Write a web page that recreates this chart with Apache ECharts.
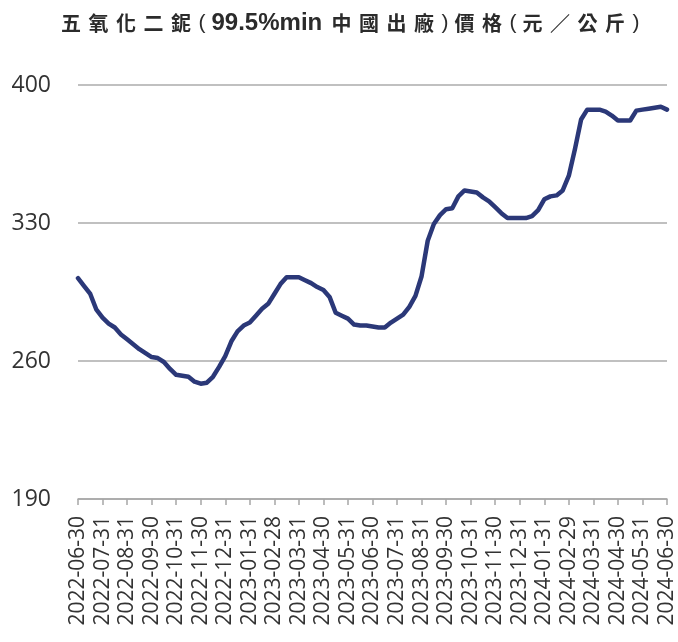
<!DOCTYPE html>
<html>
<head>
<meta charset="utf-8">
<script src="https://cdn.jsdelivr.net/npm/echarts@6/dist/echarts.min.js"></script>
<style>
html,body{margin:0;padding:0;background:#fff;}
#chart{width:678px;height:642px;}
</style>
</head>
<body>
<div id="chart"></div>
<script>
// ---- data ----
const titleText = '五氧化二鈮(99.5%min中國出廠)價格(元／公斤)';
const monthEnds = [
  '2022-06-30','2022-07-31','2022-08-31','2022-09-30','2022-10-31','2022-11-30','2022-12-31',
  '2023-01-31','2023-02-28','2023-03-31','2023-04-30','2023-05-31','2023-06-30','2023-07-31',
  '2023-08-31','2023-09-30','2023-10-31','2023-11-30','2023-12-31','2024-01-31','2024-02-29',
  '2024-03-31','2024-04-30','2024-05-31','2024-06-30'
];
const yTicks = [190, 260, 330, 400];
const prices = [
  302, 298, 294, 286, 282, 279, 277, 273.5, 271, 268.5,
  266, 264, 262, 261.5, 259.5, 256, 253, 252.5, 252, 249.5,
  248.5, 249, 252, 257, 262.5, 270, 275, 278, 279.5, 283,
  286.5, 289, 294, 299, 302.5, 302.5, 302.5, 301, 299.5, 297.5,
  296, 292.5, 284.5, 283, 281.5, 278.5, 278, 278, 277.5, 277,
  277, 279.5, 281.5, 283.5, 287.5, 293, 303, 321, 329.5, 334,
  337, 337.5, 343.5, 346.5, 346, 345.5, 343, 341, 338, 335,
  332.5, 332.5, 332.5, 332.5, 333.5, 336.5, 342, 343.5, 344, 346.5,
  354, 367.5, 382.5, 387.5, 387.5, 387.5, 386.5, 384.5, 382, 382,
  382, 387, 387.5, 388, 388.5, 389, 387.5
];

// weekly categories between month ends
const categories = [];
monthEnds.forEach((d, i) => {
  categories.push(d);
  if (i < monthEnds.length - 1) {
    for (let w = 1; w < 4; w++) {
      const dt = new Date(d + 'T00:00:00Z');
      dt.setUTCDate(dt.getUTCDate() + 7 * w);
      categories.push(dt.toISOString().slice(0, 10));
    }
  }
});
const isMonthEnd = (idx, val) => monthEnds.indexOf(val) >= 0;

// build rich title (spaced CJK characters)
function richTitle(s) {
  let out = '';
  let ascii = '';
  const flush = () => { if (ascii) { out += '{a|' + ascii + '}'; ascii = ''; } };
  for (const ch of s) {
    if (/[0-9A-Za-z.%]/.test(ch)) { ascii += ch; continue; }
    flush();
    if (ch === '(' || ch === ')') out += '{p|' + ch + '}';
    else out += '{c|' + ch + '}';
  }
  flush();
  return out;
}

const chart = echarts.init(document.getElementById('chart'));
chart.setOption({
  backgroundColor: '#ffffff',
  animation: false,
  title: {
    text: richTitle(titleText),
    left: 61,
    top: 11,
    padding: 0,
    textStyle: {
      rich: {
        c: { width: 27.5, fontSize: 20, fontFamily: 'Noto Sans CJK TC', fontWeight: 'bold', color: '#2b2b2b' },
        p: { width: 13, fontSize: 21, fontFamily: 'Liberation Sans', fontWeight: 'normal', color: '#2b2b2b' },
        a: { width: 120, fontSize: 24, fontFamily: 'Liberation Sans', fontWeight: 'bold', color: '#2b2b2b' }
      }
    }
  },
  grid: { left: 78, right: 11, top: 85, bottom: 143, containLabel: false },
  xAxis: {
    type: 'category',
    data: categories,
    boundaryGap: false,
    axisLine: { show: true, lineStyle: { color: '#a6a6a6', width: 1.5 } },
    axisTick: { show: true, interval: isMonthEnd, length: 6, lineStyle: { color: '#a6a6a6', width: 1.5 } },
    axisLabel: {
      interval: isMonthEnd,
      rotate: 90,
      margin: 17,
      fontSize: 21,
      fontFamily: 'Open Sans',
      fontWeight: 500,
      color: '#333333'
    },
    splitLine: { show: false }
  },
  yAxis: {
    type: 'value',
    min: yTicks[0],
    max: yTicks[yTicks.length - 1],
    interval: yTicks[1] - yTicks[0],
    axisLine: { show: false },
    axisTick: { show: false },
    axisLabel: { margin: 27, fontSize: 23, fontFamily: 'Open Sans', fontWeight: 500, color: '#333333' },
    splitLine: { show: true, lineStyle: { color: '#ababab', width: 1.5 } }
  },
  series: [{
    type: 'line',
    data: prices,
    symbol: 'none',
    smooth: false,
    lineStyle: { color: '#2b3878', width: 4.5, join: 'round', cap: 'round' }
  }]
});
</script>
</body>
</html>
